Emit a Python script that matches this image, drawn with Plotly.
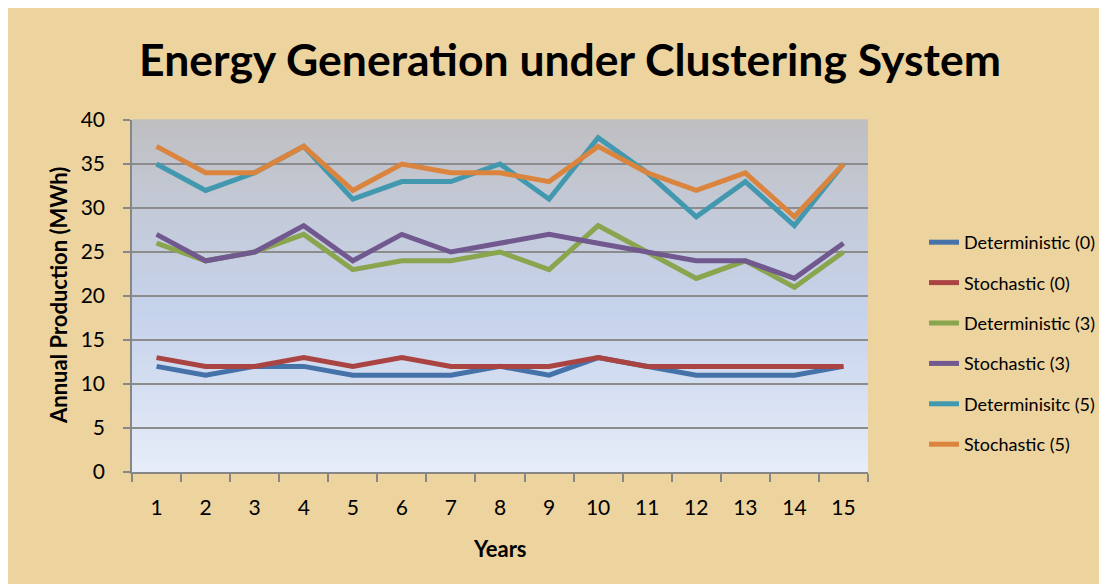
import plotly.graph_objects as go

years = [str(i) for i in range(1, 16)]
det0 = [12, 11, 12, 12, 11, 11, 11, 12, 11, 13, 12, 11, 11, 11, 12]
sto0 = [13, 12, 12, 13, 12, 13, 12, 12, 12, 13, 12, 12, 12, 12, 12]
det3 = [26, 24, 25, 27, 23, 24, 24, 25, 23, 28, 25, 22, 24, 21, 25]
sto3 = [27, 24, 25, 28, 24, 27, 25, 26, 27, 26, 25, 24, 24, 22, 26]
det5 = [35, 32, 34, 37, 31, 33, 33, 35, 31, 38, 34, 29, 33, 28, 35]
sto5 = [37, 34, 34, 37, 32, 35, 34, 34, 33, 37, 34, 32, 34, 29, 35]

series_names = ["Deterministic (0)", "Stochastic (0)", "Deterministic (3)",
                "Stochastic (3)", "Determinisitc (5)", "Stochastic (5)"]
series_vals = [det0, sto0, det3, sto3, det5, sto5]
colors = ["#4672AA", "#AA4442", "#89A54E", "#71588F", "#4198AF", "#DB843D"]

OFF = 8  # page body margin
W, H = 1107 - OFF, 584 - OFF
ML, MT = 132 - OFF, 120 - OFF
MR = W - (868 - OFF)
MB = H - (472 - OFF)
PW, PH = W - ML - MR, H - MT - MB

def px_x(p):  # reference page pixel -> paper
    return (p - OFF - ML) / PW

def px_y(p):
    return (H - MB - (p - OFF)) / PH

FONT = "Lato"

fig = go.Figure()
for i, (name, vals, col) in enumerate(zip(series_names, series_vals, colors)):
    fig.add_trace(go.Scatter(
        x=years, y=vals, name=name, mode="lines",
        line=dict(color=col, width=5),
        legendgroup=f"g{i}",
    ))

shapes = []
stops = [(0.0, (231, 237, 249)), (0.25, (212, 222, 241)), (0.45, (198, 211, 236)),
         (0.7, (196, 203, 219)), (1.0, (191, 191, 193))]

def col_at(t):
    for (t0, c0), (t1, c1) in zip(stops[:-1], stops[1:]):
        if t0 <= t <= t1:
            f = (t - t0) / (t1 - t0)
            return tuple(int(round(a + (b - a) * f)) for a, b in zip(c0, c1))
    return stops[-1][1]

N = 70
for k in range(N):
    t0, t1 = k / N, (k + 1) / N
    c = col_at((t0 + t1) / 2)
    shapes.append(dict(type="rect", xref="x domain", yref="y domain",
                       x0=0, x1=1, y0=t0, y1=t1 + 0.002,
                       fillcolor=f"rgb{c}", line=dict(width=0), layer="below"))

fig.update_layout(
    width=W, height=H,
    margin=dict(l=ML, r=MR, t=MT, b=MB, autoexpand=False),
    paper_bgcolor="#EDD39E",
    plot_bgcolor="rgba(0,0,0,0)",
    shapes=shapes,
    title=dict(text="<b>Energy Generation under Clustering System</b>",
               font=dict(family=FONT, size=44.5, color="black"),
               x=(570 - OFF) / W, xanchor="center",
               y=1 - (60 - OFF) / H, yanchor="middle"),
    font=dict(family=FONT, color="black"),
    showlegend=True,
    legend=dict(x=(924 - OFF) / W, y=1 - (224 - OFF) / H,
                xref="container", yref="container",
                xanchor="left", yanchor="top",
                font=dict(family=FONT, size=18, color="black"),
                bgcolor="rgba(0,0,0,0)", traceorder="grouped",
                tracegroupgap=14),
    xaxis=dict(type="category", tickson="boundaries", ticks="outside",
               range=[-0.5, len(years) - 0.5],
               ticklen=8, tickwidth=1.5, tickcolor="#878787",
               showline=True, linecolor="#878787", linewidth=1.5,
               showgrid=False, tickfont=dict(family=FONT, size=21),
               ticklabelstandoff=16),
    yaxis=dict(range=[0, 40], dtick=5, ticks="outside", ticklen=7,
               tickwidth=1.5, tickcolor="#878787",
               showline=True, linecolor="#878787", linewidth=1.5,
               showgrid=True, gridcolor="#8C8C8C", gridwidth=1.5,
               zeroline=False, tickfont=dict(family=FONT, size=21),
               ticklabelstandoff=14),
    annotations=[
        dict(text="<b>Annual Production (MWh)</b>", xref="paper", yref="paper",
             x=px_x(58), y=0.5, textangle=-90, showarrow=False,
             xanchor="center", yanchor="middle",
             font=dict(family=FONT, size=22, color="black")),
        dict(text="<b>Years</b>", xref="paper", yref="paper",
             x=px_x(500), y=px_y(548), showarrow=False,
             xanchor="center", yanchor="middle",
             font=dict(family=FONT, size=22, color="black")),
    ],
)

fig.write_html("out.html")
